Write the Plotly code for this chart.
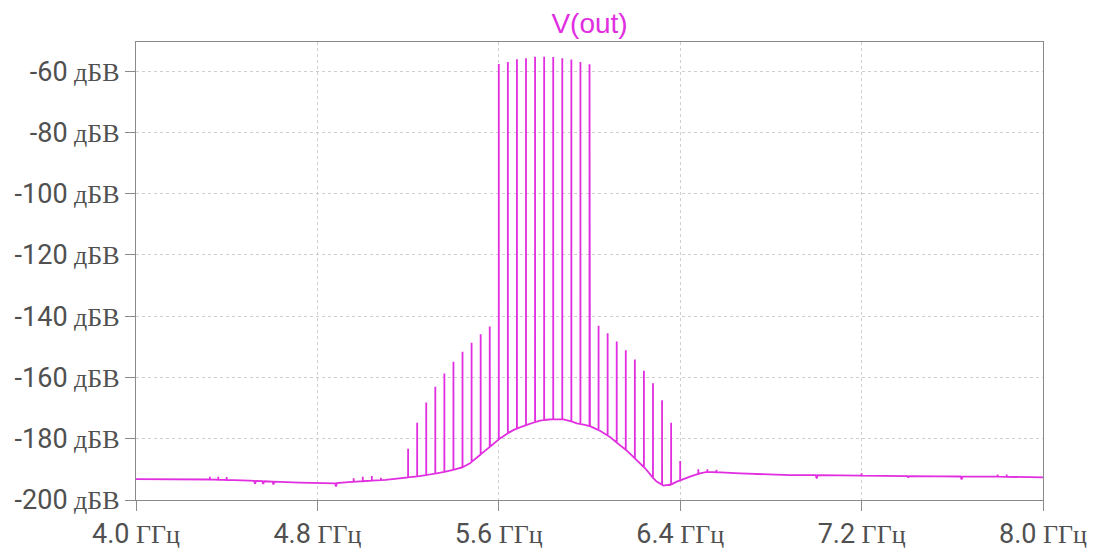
import numpy as np
import plotly.graph_objects as go

# Baseline (noise floor) of V(out), GHz / dBV
base_freq = [4.00, 4.28, 4.50, 4.72, 4.87, 4.95, 5.10, 5.164, 5.25, 5.326, 5.399, 5.44, 5.473,
             5.517, 5.561, 5.605, 5.635, 5.664, 5.70, 5.723, 5.755, 5.782, 5.81, 5.840, 5.884,
             5.915, 5.944, 5.975, 6.002, 6.046, 6.090, 6.134, 6.165, 6.193, 6.225, 6.252,
             6.275, 6.296, 6.326, 6.355, 6.385, 6.443, 6.487, 6.517, 6.664, 6.884,
             7.061, 7.30, 7.55, 7.80, 8.00]
base_db = [-193.2, -193.2, -193.7, -194.3, -194.6, -194.1, -193.4, -192.9, -192.2, -191.3, -190.2,
           -189.3, -188.0, -185.3, -182.6, -179.9, -178.4, -177.2, -176.1, -175.5, -174.7,
           -174.1, -173.8, -173.6, -173.7, -174.2, -175.0, -175.4, -175.9, -177.4, -179.4,
           -182.1, -183.9, -185.9, -188.2, -190.2, -192.4, -194.0, -195.3, -195.1, -194.0,
           -192.4, -191.3, -190.8, -191.3, -191.9, -191.9, -192.1, -192.3, -192.4, -192.6]

# Spectral lines (spikes): frequency (GHz) and peak level (dBV)
spike_freq = [4.326, 4.363, 4.400,
              4.96, 5.00, 5.04, 5.08,
              5.20, 5.24, 5.28, 5.32, 5.36, 5.40, 5.44, 5.48, 5.52, 5.56,
              5.60, 5.64, 5.68, 5.72, 5.76, 5.80, 5.84, 5.88, 5.92, 5.96, 6.00,
              6.04, 6.08, 6.12, 6.16, 6.20, 6.24, 6.28, 6.32, 6.36, 6.40,
              6.48, 6.52, 6.56, 7.20, 7.80, 7.84]
spike_db = [-192.4, -192.4, -192.5,
            -192.9, -192.4, -192.2, -192.7,
            -183.3, -174.8, -168.2, -163.0, -158.7, -154.9, -151.6, -148.7, -145.9, -143.4,
            -57.7, -57.0, -56.1, -55.8, -55.3, -55.3, -55.4, -55.8, -56.2, -57.0, -57.8,
            -143.1, -145.6, -148.3, -151.1, -154.1, -157.8, -161.9, -167.4, -174.8, -187.3,
            -190.0, -190.0, -190.1, -191.3, -191.7, -191.7]

# Small dips in the noise floor
dip_freq = [4.525, 4.561, 4.606, 4.882, 7.002, 7.406, 7.641]
dip_db = [-194.7, -194.8, -194.9, -195.6, -193.0, -192.7, -193.3]

LINE = "#E02EE0"

# Build one polyline: baseline with vertical spikes and small dips
pts = [(f, d) for f, d in zip(base_freq, base_db)]
for f, top in zip(spike_freq, spike_db):
    b = float(np.interp(f, base_freq, base_db))
    pts += [(f - 1e-4, b), (f, top), (f + 1e-4, b)]
for f, d in zip(dip_freq, dip_db):
    b1 = float(np.interp(f - 0.004, base_freq, base_db))
    b2 = float(np.interp(f + 0.004, base_freq, base_db))
    pts += [(f - 0.004, b1), (f, d), (f + 0.004, b2)]
pts.sort(key=lambda p: p[0])
xs = [p[0] for p in pts]
ys = [p[1] for p in pts]

x_ticks = [4.0, 4.8, 5.6, 6.4, 7.2, 8.0]
y_ticks = [-200, -180, -160, -140, -120, -100, -80, -60]
SERIF = 'style="font-family:Liberation Serif;font-size:26px"'
x_text = [f'{v:.1f}<span {SERIF}> ГГц</span>' for v in x_ticks]
y_text = [f'{v}<span {SERIF}> дБВ</span>' for v in y_ticks]

fig = go.Figure()
fig.add_trace(go.Scatter(x=xs, y=ys, mode="lines",
                         line=dict(color=LINE, width=1.8), hoverinfo="skip",
                         showlegend=False))

axis_common = dict(showline=True, linecolor="#8a8a8a", linewidth=1, mirror=True,
                   ticks="outside", ticklen=10, tickcolor="#8a8a8a", tickwidth=1,
                   showgrid=True, gridcolor="#cfcfcf", griddash="dot", gridwidth=1,
                   zeroline=False, automargin=False,
                   tickfont=dict(family="Roboto", size=27, color="#505050"))

fig.update_xaxes(range=[4.0, 8.0], tickvals=x_ticks, ticktext=x_text, **axis_common)
fig.update_yaxes(range=[-200, -50.5], tickvals=y_ticks, ticktext=y_text, **axis_common)

fig.update_layout(
    width=1093, height=550,
    margin=dict(l=136, r=50, t=42, b=50),
    paper_bgcolor="white", plot_bgcolor="white",
    title=dict(text="V(out)", x=0.5, xref="paper", y=1 - 23 / 550, yref="container",
               xanchor="center", yanchor="middle",
               font=dict(family="Liberation Sans", size=28, color=LINE)),
)

fig.write_html("out.html")
